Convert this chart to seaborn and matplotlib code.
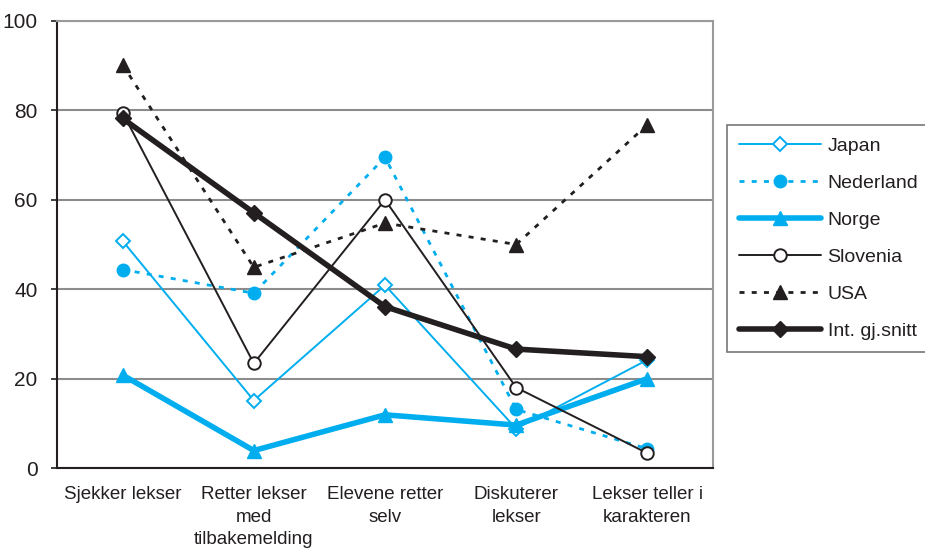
import matplotlib
matplotlib.use("Agg")
import matplotlib.pyplot as plt
import seaborn as sns
import numpy as np
import pandas as pd

categories = [
    "Sjekker lekser",
    "Retter lekser\nmed\ntilbakemelding",
    "Elevene retter\nselv",
    "Diskuterer\nlekser",
    "Lekser teller i\nkarakteren",
]
japan = [50.8, 15.1, 40.9, 8.8, 24.2]
nederland = [44.4, 39.1, 69.5, 13.1, 4.3]
norge = [20.8, 3.9, 11.9, 9.6, 20.0]
slovenia = [79.5, 23.4, 60.0, 18.0, 3.3]
usa = [90.2, 44.9, 54.8, 50.0, 76.8]
int_snitt = [78.2, 57.1, 36.1, 26.6, 24.9]
y_ticks = [0, 20, 40, 60, 80, 100]

series_names = ["Japan", "Nederland", "Norge", "Slovenia", "USA", "Int. gj.snitt"]
series_values = [japan, nederland, norge, slovenia, usa, int_snitt]

cyan = "#00AEEF"
dark = "#231F20"
dotted = (0, (1.8, 2.6))
styles = {
    "Japan": dict(color=cyan, linewidth=1.4, linestyle="-", marker="D", markersize=7,
                  markerfacecolor="white", markeredgecolor=cyan, markeredgewidth=1.4),
    "Nederland": dict(color=cyan, linewidth=2.0, linestyle=dotted, marker="o", markersize=9,
                      markerfacecolor=cyan, markeredgecolor=cyan, markeredgewidth=1),
    "Norge": dict(color=cyan, linewidth=4.0, linestyle="-", marker="^", markersize=10,
                  markerfacecolor=cyan, markeredgecolor=cyan, markeredgewidth=1),
    "Slovenia": dict(color=dark, linewidth=1.4, linestyle="-", marker="o", markersize=9,
                     markerfacecolor="white", markeredgecolor=dark, markeredgewidth=1.4),
    "USA": dict(color=dark, linewidth=2.0, linestyle=dotted, marker="^", markersize=10,
                markerfacecolor=dark, markeredgecolor=dark, markeredgewidth=1),
    "Int. gj.snitt": dict(color=dark, linewidth=4.0, linestyle="-", marker="D", markersize=8,
                          markerfacecolor=dark, markeredgecolor=dark, markeredgewidth=1),
}

sns.set_theme(style="white")
plt.rcParams["font.family"] = ["Liberation Sans", "DejaVu Sans"]

fig = plt.figure(figsize=(9.25, 5.54), dpi=100)
ax = fig.add_axes([57 / 925, 1 - 468 / 554, (713 - 57) / 925, (468 - 21) / 554])

positions = np.arange(len(categories))
for name, vals in zip(series_names, series_values):
    df = pd.DataFrame({"pos": positions, "value": vals})
    sns.lineplot(data=df, x="pos", y="value", ax=ax, label=name, sort=False,
                 zorder=3, **styles[name])

ax.set_xlim(-0.5, len(categories) - 0.5)
ax.set_ylim(0, 100)
ax.set_yticks(y_ticks)
ax.set_yticklabels([str(t) for t in y_ticks], fontsize=15, color=dark)
ax.yaxis.grid(True, color="#8C8C8C", linewidth=1.5)
ax.set_axisbelow(True)

# category boundaries carry the tick marks; labels sit between them
ax.set_xticks(np.arange(-0.5, len(categories)), labels=[""] * (len(categories) + 1))
ax.set_xticks(positions, minor=True)
ax.set_xticklabels(categories, minor=True, fontsize=13.5, color=dark,
                   linespacing=1.42, va="top")
ax.tick_params(axis="x", which="major", direction="out", length=6, width=1.2, color=dark)
ax.tick_params(axis="x", which="minor", length=0, pad=13)
ax.tick_params(axis="y", direction="out", length=4, width=1.2, color=dark, pad=10, left=True)
ax.set_xlabel("")
ax.set_ylabel("")

for side in ("top", "right"):
    ax.spines[side].set_color("#9A9A9A")
    ax.spines[side].set_linewidth(1.5)
for side in ("left", "bottom"):
    ax.spines[side].set_color(dark)
    ax.spines[side].set_linewidth(1.5)

leg = ax.legend(loc="upper left", bbox_to_anchor=(727 / 925, 1 - 125 / 554),
                bbox_transform=fig.transFigure, borderaxespad=0, frameon=True,
                fancybox=False, edgecolor="#555555", fontsize=14, handlelength=4.2,
                handletextpad=0.35, labelspacing=1.0, borderpad=0.62)
leg.get_frame().set_linewidth(1.2)
for t in leg.get_texts():
    t.set_color(dark)

fig.savefig("out.png", dpi=100)
